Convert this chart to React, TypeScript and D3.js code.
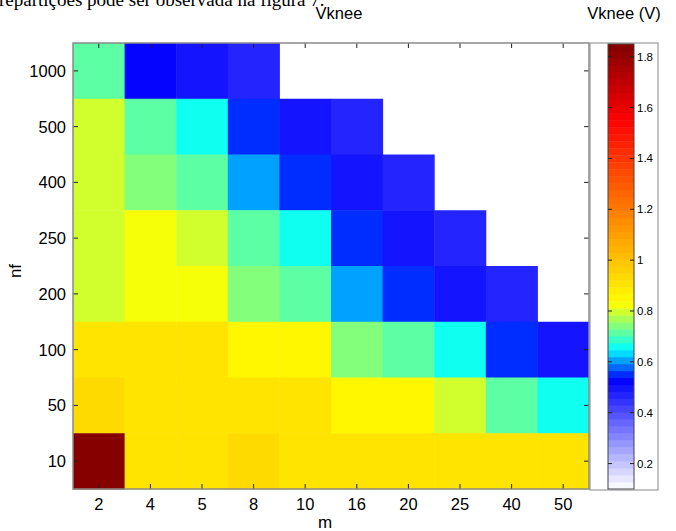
import React, { useRef, useEffect } from 'react';
import * as d3 from 'd3';

// heatmap of Vknee over m (columns) and nf (rows)
const mLabels = ['2', '4', '5', '8', '10', '16', '20', '25', '40', '50'];
const nfLabels = ['1000', '500', '400', '250', '200', '100', '50', '10'];

// one row per nf, null = no data (white)
const vknee: (number | null)[][] = [
  [0.71, 0.53, 0.50, 0.46, null, null, null, null, null, null],
  [0.795, 0.71, 0.65, 0.555, 0.50, 0.46, null, null, null, null],
  [0.795, 0.74, 0.71, 0.60, 0.555, 0.50, 0.46, null, null, null],
  [0.795, 0.83, 0.795, 0.71, 0.65, 0.555, 0.50, 0.46, null, null],
  [0.79, 0.83, 0.83, 0.74, 0.71, 0.60, 0.555, 0.50, 0.46, null],
  [0.90, 0.90, 0.90, 0.84, 0.84, 0.74, 0.71, 0.65, 0.555, 0.50],
  [0.94, 0.92, 0.92, 0.92, 0.92, 0.86, 0.84, 0.795, 0.71, 0.65],
  [1.85, 0.91, 0.91, 0.94, 0.91, 0.91, 0.91, 0.91, 0.91, 0.91],
];

const cbTicks = [0.2, 0.4, 0.6, 0.8, 1, 1.2, 1.4, 1.6, 1.8];
const cbDomain: [number, number] = [0.1, 1.85];
const cmapStops: [number, string][] = [
  [0.1, '#ffffff'],
  [0.53, '#0000ff'],
  [0.65, '#00ffff'],
  [0.83, '#ffff00'],
  [1.55, '#ff0000'],
  [1.85, '#800000'],
];
const nLevels = 64;

const W = 676, H = 531;
const plot = { left: 73, right: 589, top: 43, bottom: 489 };
const font = 'Liberation Sans, Arial, sans-serif';

const cmap = d3.scaleLinear<string>()
  .domain(cmapStops.map(d => d[0]))
  .range(cmapStops.map(d => d[1]))
  .interpolate(d3.interpolateRgb)
  .clamp(true);

function levelColor(v: number) {
  const t = (v - cbDomain[0]) / (cbDomain[1] - cbDomain[0]);
  const k = Math.max(0, Math.min(nLevels - 1, Math.floor(t * nLevels)));
  return cmap(cbDomain[0] + (k + 0.5) / nLevels * (cbDomain[1] - cbDomain[0]));
}

export default function App() {
  const ref = useRef<SVGSVGElement>(null);

  useEffect(() => {
    const svg = d3.select(ref.current);
    svg.selectAll('*').remove();

    const x = d3.scaleBand().domain(mLabels).range([plot.left, plot.right]);
    const y = d3.scaleBand().domain(nfLabels).range([plot.top, plot.bottom]);

    // cells
    const cells = vknee.flatMap((row, i) =>
      row.map((v, j) => ({ nf: nfLabels[i], m: mLabels[j], v })));
    svg.append('g')
      .selectAll('rect')
      .data(cells.filter(d => d.v !== null))
      .join('rect')
      .attr('x', d => x(d.m)!)
      .attr('y', d => y(d.nf)!)
      .attr('width', x.bandwidth() + 0.5)
      .attr('height', y.bandwidth() + 0.5)
      .attr('fill', d => levelColor(d.v as number));

    // axes, ticks inward on all sides
    const tick = 5;
    const gAx = svg.append('g').attr('stroke', '#222').attr('stroke-width', 1);
    mLabels.forEach(m => {
      const cx = x(m)! + x.bandwidth() / 2;
      gAx.append('line').attr('x1', cx).attr('x2', cx).attr('y1', plot.bottom).attr('y2', plot.bottom - tick);
      gAx.append('line').attr('x1', cx).attr('x2', cx).attr('y1', plot.top).attr('y2', plot.top + tick);
    });
    nfLabels.forEach(n => {
      const cy = y(n)! + y.bandwidth() / 2;
      gAx.append('line').attr('x1', plot.left).attr('x2', plot.left + tick).attr('y1', cy).attr('y2', cy);
      gAx.append('line').attr('x1', plot.right).attr('x2', plot.right - tick).attr('y1', cy).attr('y2', cy);
    });
    svg.append('rect')
      .attr('x', plot.left).attr('y', plot.top)
      .attr('width', plot.right - plot.left).attr('height', plot.bottom - plot.top)
      .attr('fill', 'none').attr('stroke', '#8a8a8a').attr('stroke-width', 1.5);

    svg.append('g')
      .selectAll('text')
      .data(mLabels)
      .join('text')
      .attr('x', d => x(d)! + x.bandwidth() / 2)
      .attr('y', 510)
      .attr('text-anchor', 'middle')
      .attr('font-family', font).attr('font-size', 16.5)
      .text(d => d);

    svg.append('g')
      .selectAll('text')
      .data(nfLabels)
      .join('text')
      .attr('x', 66)
      .attr('y', d => y(d)! + y.bandwidth() / 2 + 6)
      .attr('text-anchor', 'end')
      .attr('font-family', font).attr('font-size', 16.5)
      .text(d => d);

    svg.append('text').attr('x', 325).attr('y', 528).attr('text-anchor', 'middle')
      .attr('font-family', font).attr('font-size', 17).text('m');
    svg.append('text').attr('transform', 'translate(21,271) rotate(-90)').attr('text-anchor', 'middle')
      .attr('font-family', font).attr('font-size', 17).text('nf');
    svg.append('text').attr('x', 339).attr('y', 19).attr('text-anchor', 'middle')
      .attr('font-family', font).attr('font-size', 16.5).text('Vknee');
    svg.append('text').attr('x', 624).attr('y', 19).attr('text-anchor', 'middle')
      .attr('font-family', font).attr('font-size', 16.5).text('Vknee (V)');

    // colorbar
    const cb = { left: 608, right: 634, top: 44, bottom: 489 };
    const cy = d3.scaleLinear().domain(cbDomain).range([cb.bottom, cb.top]);
    const levels = d3.range(nLevels).map(k => cbDomain[0] + k / nLevels * (cbDomain[1] - cbDomain[0]));
    const step = (cbDomain[1] - cbDomain[0]) / nLevels;
    svg.append('rect')
      .attr('x', 590).attr('y', plot.top).attr('width', 68).attr('height', 447)
      .attr('fill', 'white').attr('stroke', '#9a9a9a').attr('stroke-width', 1.2);
    svg.append('g')
      .selectAll('rect')
      .data(levels)
      .join('rect')
      .attr('x', cb.left)
      .attr('width', cb.right - cb.left)
      .attr('y', d => cy(d + step))
      .attr('height', d => cy(d) - cy(d + step) + 0.4)
      .attr('fill', d => levelColor(d + step / 2));
    svg.append('rect')
      .attr('x', cb.left).attr('y', cb.top)
      .attr('width', cb.right - cb.left).attr('height', cb.bottom - cb.top)
      .attr('fill', 'none').attr('stroke', '#444').attr('stroke-width', 1);
    const gCb = svg.append('g').attr('stroke', '#222').attr('stroke-width', 1);
    cbTicks.forEach(t => {
      gCb.append('line').attr('x1', cb.left).attr('x2', cb.left + 4).attr('y1', cy(t)).attr('y2', cy(t));
      gCb.append('line').attr('x1', cb.right).attr('x2', cb.right - 4).attr('y1', cy(t)).attr('y2', cy(t));
    });
    svg.append('g')
      .selectAll('text')
      .data(cbTicks)
      .join('text')
      .attr('x', 637)
      .attr('y', d => cy(d) + 4)
      .attr('font-family', font).attr('font-size', 11.5)
      .text(d => d3.format('~g')(d));

    // cut-off line of the surrounding document
    svg.append('text').attr('x', -1).attr('y', 6)
      .attr('font-family', 'Liberation Serif, Times New Roman, serif').attr('font-size', 19)
      .text('repartições pode ser observada na figura 7.');
  }, []);

  return (
    <div style={{ position: 'absolute', left: 0, top: 0 }}>
      <svg ref={ref} width={W} height={H} style={{ display: 'block', background: 'white' }} />
    </div>
  );
}
